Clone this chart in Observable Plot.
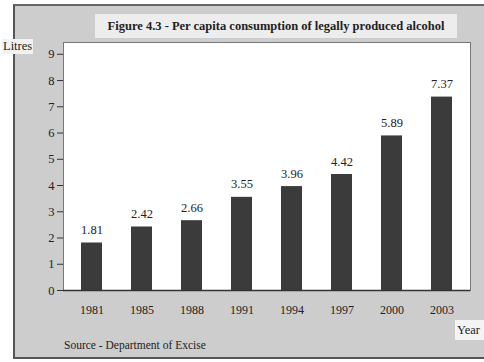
<!DOCTYPE html>
<html>
<head>
<meta charset="utf-8">
<script src="https://cdn.jsdelivr.net/npm/d3@7"></script>
<script src="https://cdn.jsdelivr.net/npm/@observablehq/plot@0.6"></script>
<style>
  html, body { margin: 0; padding: 0; background: #ffffff; }
  #page {
    position: relative; width: 484px; height: 362px; overflow: hidden;
    font-family: "Liberation Serif", "DejaVu Serif", serif; color: #222;
  }
  #panel {
    position: absolute; left: 13px; top: 4px; width: 480px; height: 355px;
    background: #cdcdcd; border-left: 2px solid #555; border-top: 2px solid #666;
    border-bottom: 2px solid #555; box-sizing: border-box;
  }
  #chart { position: absolute; left: 0; top: 0; }
  .lbl { position: absolute; white-space: nowrap; }
  #title {
    left: 95px; top: 14px; width: 362px; height: 24px; background: #ededed;
    font-weight: bold; font-size: 12.5px; line-height: 24px; text-align: center;
  }
  #litres { left: 2px; top: 39px; font-size: 12.5px; background: #f2f2f2; padding: 0 1px; }
  #year { left: 455px; top: 320px; width: 29px; height: 20px; background: #f4f4f4;
          font-size: 12.5px; line-height: 20px; padding-left: 2px; box-sizing: border-box; }
  #source { left: 64px; top: 339px; font-size: 11.5px; }
</style>
</head>
<body>
<div id="page">
  <div id="panel"></div>
  <div id="chart"></div>
  <div class="lbl" id="title">Figure 4.3 - Per capita consumption of legally produced alcohol</div>
  <div class="lbl" id="litres">Litres</div>
  <div class="lbl" id="year">Year</div>
  <div class="lbl" id="source">Source - Department of Excise</div>
</div>
<script>
// Per capita consumption of legally produced alcohol, litres
const years = ["1981", "1985", "1988", "1991", "1994", "1997", "2000", "2003"];
const litres = [1.81, 2.42, 2.66, 3.55, 3.96, 4.42, 5.89, 7.37];
const yTicks = [0, 1, 2, 3, 4, 5, 6, 7, 8, 9];

const rows = years.map((year, i) => ({year, value: litres[i]}));

const chart = Plot.plot({
  width: 484,
  height: 362,
  marginLeft: 63,
  marginRight: 14,
  marginTop: 42,
  marginBottom: 72,
  style: {background: "transparent", fontFamily: "Liberation Serif, serif", fontSize: "12px", color: "#222"},
  x: {domain: years, paddingInner: 0.58, paddingOuter: 0.29, label: null},
  y: {domain: [0, 9.45], label: null},
  marks: [
    Plot.frame({fill: "#ffffff", stroke: "#777", strokeWidth: 1}),
    Plot.barY(rows, {x: "year", y: "value", fill: "#3b3b3b"}),
    Plot.text(rows, {x: "year", y: "value", text: d => d.value.toFixed(2), dy: -13,
                     fontSize: 12.5, fill: "#222"}),
    Plot.ruleY([0], {stroke: "#333", strokeWidth: 1.5}),
    Plot.axisY({ticks: yTicks, tickSize: 6, tickPadding: 3, tickFormat: d => String(d),
                fontSize: 12.5, stroke: "#333"}),
    Plot.axisX({tickSize: 0, tickPadding: 15, fontSize: 12})
  ]
});
document.getElementById("chart").appendChild(chart);
</script>
</body>
</html>
